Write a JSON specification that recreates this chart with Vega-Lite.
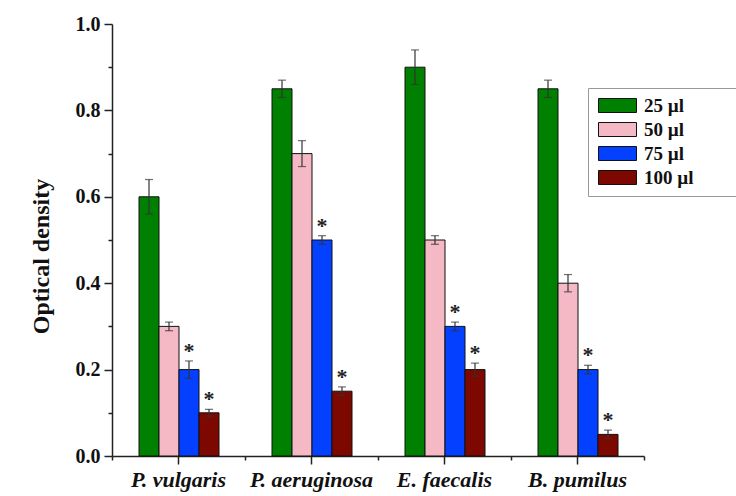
{
  "$schema": "https://vega.github.io/schema/vega-lite/v6.json",
  "width": 532,
  "height": 432,
  "autosize": "none",
  "padding": {"left": 112, "top": 24, "right": 92, "bottom": 40},
  "background": "#ffffff",
  "config": {
    "view": {"stroke": null},
    "font": "Liberation Serif",
    "axis": {
      "domainColor": "#222222",
      "domainWidth": 1.5,
      "tickColor": "#222222",
      "tickWidth": 1.5,
      "grid": false,
      "labelFont": "Liberation Serif",
      "labelFontWeight": "bold",
      "labelColor": "#111111",
      "titleFont": "Liberation Serif",
      "titleFontWeight": "bold",
      "titleColor": "#111111"
    }
  },
  "data": {
    "values": [
      {"species": "P. vulgaris", "dose": "25 µl", "od": 0.60, "lo": 0.56, "hi": 0.64, "sig": ""},
      {"species": "P. vulgaris", "dose": "50 µl", "od": 0.30, "lo": 0.29, "hi": 0.31, "sig": ""},
      {"species": "P. vulgaris", "dose": "75 µl", "od": 0.20, "lo": 0.18, "hi": 0.22, "sig": "*"},
      {"species": "P. vulgaris", "dose": "100 µl", "od": 0.10, "lo": 0.092, "hi": 0.108, "sig": "*"},
      {"species": "P. aeruginosa", "dose": "25 µl", "od": 0.85, "lo": 0.83, "hi": 0.87, "sig": ""},
      {"species": "P. aeruginosa", "dose": "50 µl", "od": 0.70, "lo": 0.67, "hi": 0.73, "sig": ""},
      {"species": "P. aeruginosa", "dose": "75 µl", "od": 0.50, "lo": 0.49, "hi": 0.51, "sig": "*"},
      {"species": "P. aeruginosa", "dose": "100 µl", "od": 0.15, "lo": 0.14, "hi": 0.16, "sig": "*"},
      {"species": "E. faecalis", "dose": "25 µl", "od": 0.90, "lo": 0.86, "hi": 0.94, "sig": ""},
      {"species": "E. faecalis", "dose": "50 µl", "od": 0.50, "lo": 0.49, "hi": 0.51, "sig": ""},
      {"species": "E. faecalis", "dose": "75 µl", "od": 0.30, "lo": 0.29, "hi": 0.31, "sig": "*"},
      {"species": "E. faecalis", "dose": "100 µl", "od": 0.20, "lo": 0.185, "hi": 0.215, "sig": "*"},
      {"species": "B. pumilus", "dose": "25 µl", "od": 0.85, "lo": 0.83, "hi": 0.87, "sig": ""},
      {"species": "B. pumilus", "dose": "50 µl", "od": 0.40, "lo": 0.38, "hi": 0.42, "sig": ""},
      {"species": "B. pumilus", "dose": "75 µl", "od": 0.20, "lo": 0.19, "hi": 0.21, "sig": "*"},
      {"species": "B. pumilus", "dose": "100 µl", "od": 0.05, "lo": 0.04, "hi": 0.06, "sig": "*"}
    ]
  },
  "resolve": {"axis": {"x": "independent"}},
  "layer": [
    {
      "mark": {"type": "bar", "stroke": "#111111", "strokeWidth": 1},
      "encoding": {
        "x": {
          "field": "species",
          "type": "nominal",
          "sort": ["P. vulgaris", "P. aeruginosa", "E. faecalis", "B. pumilus"],
          "scale": {"paddingInner": 0, "paddingOuter": 0},
          "axis": {
            "title": null,
            "orient": "bottom",
            "labelAngle": 0,
            "labelFontSize": 22,
            "labelFontStyle": "italic",
            "labelPadding": 5,
            "tickSize": 8,
            "tickBand": "center"
          }
        },
        "xOffset": {
          "field": "dose",
          "type": "nominal",
          "sort": ["25 µl", "50 µl", "75 µl", "100 µl"],
          "scale": {"paddingInner": 0, "paddingOuter": 0, "range": [27, 107]}
        },
        "y": {
          "field": "od",
          "type": "quantitative",
          "scale": {"domain": [0, 1], "nice": false},
          "axis": {
            "title": "Optical density",
            "titleFontSize": 24,
            "titlePadding": 22,
            "titleY": 232,
            "values": [0, 0.1, 0.2, 0.3, 0.4, 0.5, 0.6, 0.7, 0.8, 0.9, 1.0],
            "labelExpr": "round(datum.value * 10) % 2 == 0 ? format(datum.value, '.1f') : ''",
            "labelFontSize": 20,
            "labelPadding": 4,
            "tickSize": {"condition": {"test": "round(datum.value * 10) % 2 == 1", "value": 4}, "value": 8}
          }
        },
        "color": {
          "field": "dose",
          "type": "nominal",
          "sort": ["25 µl", "50 µl", "75 µl", "100 µl"],
          "scale": {
            "domain": ["25 µl", "50 µl", "75 µl", "100 µl"],
            "range": ["#008000", "#f4b9c5", "#0440ff", "#7c0800"]
          },
          "legend": {
            "title": null,
            "orient": "none",
            "legendX": 476,
            "legendY": 64,
            "direction": "vertical",
            "strokeColor": "#999999",
            "fillColor": "#ffffff",
            "padding": 8,
            "rowPadding": 4,
            "symbolType": "M-1,-1H4.43V1H-1Z",
            "symbolSize": 196,
            "symbolStrokeColor": "#111111",
            "symbolStrokeWidth": 1,
            "symbolOpacity": 1,
            "labelFont": "Liberation Serif",
            "labelFontWeight": "bold",
            "labelFontSize": 19,
            "labelColor": "#111111",
            "labelOffset": 29,
            "labelExpr": "datum.label + '\u00a0\u00a0\u00a0\u00a0\u00a0\u00a0\u00a0\u00a0\u200b'"
          }
        }
      }
    },
    {
      "mark": {"type": "rule", "color": "#333333", "strokeWidth": 1.2},
      "encoding": {
        "x": {
          "field": "species",
          "type": "nominal",
          "sort": ["P. vulgaris", "P. aeruginosa", "E. faecalis", "B. pumilus"],
          "axis": {
            "title": null,
            "orient": "bottom",
            "labels": false,
            "domain": false,
            "tickSize": 4,
            "tickBand": "extent"
          }
        },
        "xOffset": {"field": "dose", "type": "nominal", "sort": ["25 µl", "50 µl", "75 µl", "100 µl"]},
        "y": {"field": "lo", "type": "quantitative"},
        "y2": {"field": "hi"}
      }
    },
    {
      "mark": {"type": "tick", "color": "#333333", "thickness": 1.2, "size": 8},
      "encoding": {
        "x": {"field": "species", "type": "nominal", "sort": ["P. vulgaris", "P. aeruginosa", "E. faecalis", "B. pumilus"], "axis": null},
        "xOffset": {"field": "dose", "type": "nominal", "sort": ["25 µl", "50 µl", "75 µl", "100 µl"]},
        "y": {"field": "hi", "type": "quantitative"}
      }
    },
    {
      "mark": {"type": "tick", "color": "#333333", "thickness": 1.2, "size": 8},
      "encoding": {
        "x": {"field": "species", "type": "nominal", "sort": ["P. vulgaris", "P. aeruginosa", "E. faecalis", "B. pumilus"], "axis": null},
        "xOffset": {"field": "dose", "type": "nominal", "sort": ["25 µl", "50 µl", "75 µl", "100 µl"]},
        "y": {"field": "lo", "type": "quantitative"}
      }
    },
    {
      "transform": [{"filter": "datum.sig == '*'"}],
      "mark": {"type": "text", "font": "Liberation Serif", "fontWeight": "bold", "fontSize": 22, "baseline": "alphabetic", "dy": -3, "color": "#222222"},
      "encoding": {
        "x": {"field": "species", "type": "nominal", "sort": ["P. vulgaris", "P. aeruginosa", "E. faecalis", "B. pumilus"], "axis": null},
        "xOffset": {"field": "dose", "type": "nominal", "sort": ["25 µl", "50 µl", "75 µl", "100 µl"]},
        "y": {"field": "hi", "type": "quantitative"},
        "text": {"field": "sig"}
      }
    }
  ]
}
